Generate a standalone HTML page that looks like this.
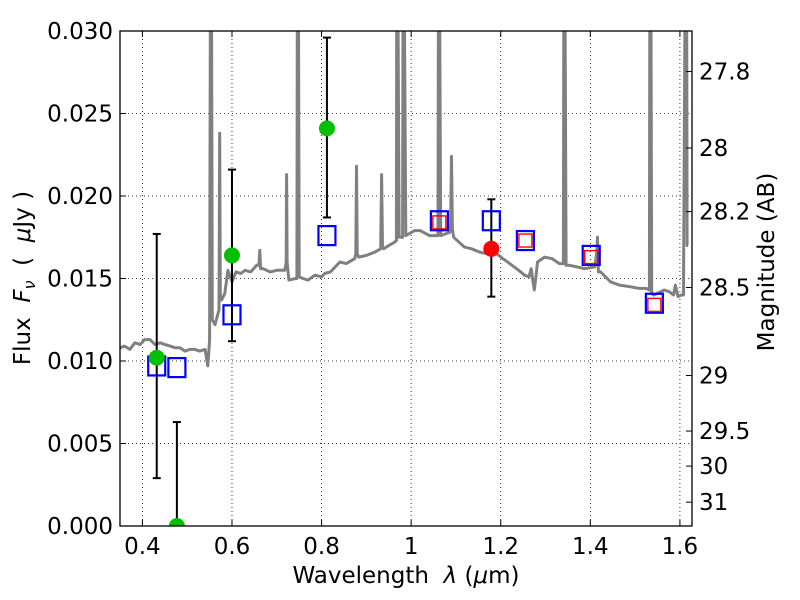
<!DOCTYPE html>
<html><head><meta charset="utf-8"><style>
html,body{margin:0;padding:0;background:#fff;}
svg{display:block;font-family:"DejaVu Sans","Liberation Sans",sans-serif;}
text{white-space:pre;}
</style></head><body>
<svg id="chart" width="800" height="600" viewBox="0 0 800 600" xmlns="http://www.w3.org/2000/svg" xml:space="preserve">
<defs><clipPath id="plotclip"><rect x="120" y="31" width="572" height="495"/></clipPath></defs>
<rect x="0" y="0" width="800" height="600" fill="#fff"/>
<g id="grid"></g>
<g id="spec" clip-path="url(#plotclip)"></g>
<g id="marks" clip-path="url(#plotclip)"></g>
<rect x="120" y="31" width="572" height="495" fill="none" stroke="#000" stroke-width="1.3"/>
<g id="axes"></g>
<text x="406" y="583" font-size="23" text-anchor="middle">Wavelength  <tspan font-style="italic">λ</tspan> (<tspan font-style="italic">μ</tspan>m)</text>
<text transform="translate(30,278) rotate(-90)" font-size="23" text-anchor="middle">Flux  <tspan font-style="italic">F</tspan><tspan font-style="italic" font-size="16" dy="5">ν</tspan><tspan dy="-5">  (  </tspan><tspan font-style="italic">μ</tspan>Jy )</text>
<text transform="translate(774,262) rotate(-90)" font-size="23" text-anchor="middle">Magnitude (AB)</text>
</svg>
<script>
const xTicks=[0.4,0.6,0.8,1.0,1.2,1.4,1.6];
const xTickLabels=["0.4","0.6","0.8","1","1.2","1.4","1.6"];
const yTicks=[0,0.005,0.010,0.015,0.020,0.025,0.030];
const yTickLabels=["0.000","0.005","0.010","0.015","0.020","0.025","0.030"];
const magTicks=[27.8,28,28.2,28.5,29,29.5,30,31];
const magTickLabels=["27.8","28","28.2","28.5","29","29.5","30","31"];
const specWave=[0.350,0.360,0.372,0.383,0.395,0.405,0.417,0.428,0.440,0.450,0.462,0.473,0.484,0.495,0.506,0.517,0.528,0.540,0.546,0.550,0.552,0.554,0.556,0.562,0.571,0.5725,0.574,0.577,0.584,0.591,0.600,0.609,0.620,0.629,0.642,0.655,0.660,0.662,0.664,0.669,0.685,0.700,0.718,0.721,0.722,0.723,0.727,0.742,0.745,0.746,0.748,0.750,0.758,0.770,0.785,0.800,0.807,0.820,0.841,0.855,0.874,0.8765,0.878,0.8795,0.883,0.900,0.919,0.932,0.934,0.936,0.939,0.950,0.963,0.967,0.968,0.970,0.973,0.979,0.981,0.982,0.984,0.988,1.008,1.020,1.041,1.057,1.060,1.061,1.063,1.066,1.086,1.088,1.090,1.092,1.095,1.119,1.135,1.153,1.170,1.186,1.205,1.220,1.240,1.253,1.263,1.268,1.272,1.275,1.279,1.282,1.298,1.315,1.331,1.340,1.341,1.343,1.346,1.353,1.370,1.387,1.410,1.414,1.416,1.418,1.423,1.445,1.465,1.490,1.509,1.525,1.532,1.533,1.535,1.537,1.541,1.550,1.565,1.576,1.586,1.590,1.596,1.603,1.608,1.612,1.615,1.616,1.618,1.622,1.627];
const specFlux=[0.0108,0.0109,0.0107,0.0111,0.0110,0.0113,0.0113,0.0110,0.0111,0.0110,0.0109,0.0108,0.0108,0.0106,0.0107,0.0107,0.0106,0.0107,0.0097,0.0113,0.035,0.035,0.0125,0.0122,0.0131,0.0238,0.0137,0.0137,0.0141,0.0155,0.0148,0.0154,0.0153,0.0155,0.0154,0.0158,0.0158,0.0167,0.0156,0.0156,0.0154,0.0155,0.0155,0.0160,0.0213,0.0160,0.0149,0.0150,0.0150,0.035,0.035,0.0151,0.0150,0.0149,0.0152,0.0151,0.0153,0.0154,0.0160,0.0159,0.0162,0.0165,0.0218,0.0165,0.0163,0.0164,0.0166,0.0168,0.0213,0.0169,0.0168,0.0170,0.0172,0.0173,0.035,0.035,0.0175,0.0175,0.0175,0.035,0.035,0.0176,0.0179,0.0179,0.0176,0.0176,0.0176,0.035,0.035,0.0176,0.0178,0.0180,0.0224,0.0180,0.0175,0.0169,0.0168,0.0166,0.0165,0.0166,0.0162,0.0159,0.0155,0.0152,0.0151,0.0156,0.0148,0.0143,0.0152,0.0160,0.0163,0.0162,0.0159,0.0159,0.035,0.035,0.0158,0.0158,0.0157,0.0156,0.0157,0.0165,0.0175,0.0154,0.0154,0.0148,0.0146,0.0145,0.0144,0.0144,0.0143,0.035,0.035,0.0141,0.0140,0.0141,0.0143,0.0142,0.0140,0.0146,0.0139,0.0140,0.0140,0.035,0.035,0.0170,0.0170];
const boxWave=[0.432,0.477,0.600,0.812,1.063,1.179,1.255,1.402,1.543];
const boxFlux=[0.0097,0.0096,0.0128,0.0176,0.0185,0.0185,0.0173,0.0164,0.0135];
const redBoxWave=[1.063,1.255,1.402,1.543];
const redBoxFlux=[0.0184,0.0173,0.0163,0.0134];
const greenWave=[0.432,0.477,0.600,0.812];
const greenFlux=[0.0102,0.0,0.0164,0.0241];
const greenErrHi=[0.0177,0.0063,0.0216,0.0296];
const greenErrLo=[0.0029,-0.005,0.0112,0.0187];
const redWave=[1.179];
const redFlux=[0.0168];
const redErrHi=[0.0198];
const redErrLo=[0.0139];

const X0=120,X1=692,Y0=526,Y1=31,WMIN=0.35,WMAX=1.627,FMIN=0,FMAX=0.030;
function xs(w){return X0+(w-WMIN)/(WMAX-WMIN)*(X1-X0);}
function ys(f){return Y0-(f-FMIN)/(FMAX-FMIN)*(Y0-Y1);}
function magToFlux(m){return Math.pow(10,(23.9-m)/2.5);}
const NS="http://www.w3.org/2000/svg";
function mk(tag,attrs,parent){const e=document.createElementNS(NS,tag);for(const k in attrs)e.setAttribute(k,attrs[k]);parent.appendChild(e);return e;}
const grid=document.getElementById('grid'),axes=document.getElementById('axes'),spec=document.getElementById('spec'),marks=document.getElementById('marks');

xTicks.forEach((t,i)=>{const x=xs(t);
 let g=mk('line',{x1:x,x2:x,y1:Y1,y2:Y0,stroke:'#000','stroke-width':0.8,'stroke-dasharray':'1,3'},grid);
 
 
 let a=mk('line',{x1:x,x2:x,y1:Y0,y2:Y0-6,stroke:'#000','stroke-width':1},axes);
 
 
 let b=mk('line',{x1:x,x2:x,y1:Y1,y2:Y1+6,stroke:'#000','stroke-width':1},axes);
 
 
 let tx=mk('text',{x:x,y:554,'font-size':23,'text-anchor':'middle'},axes);tx.textContent=xTickLabels[i];
 
 
});
yTicks.forEach((t,i)=>{const y=ys(t);
 let g=mk('line',{x1:X0,x2:X1,y1:y,y2:y,stroke:'#000','stroke-width':0.8,'stroke-dasharray':'1,3'},grid);
 
 
 let a=mk('line',{x1:X0,x2:X0+6,y1:y,y2:y,stroke:'#000','stroke-width':1},axes);
 
 
 let tx=mk('text',{x:113,y:y+8,'font-size':23,'text-anchor':'end'},axes);tx.textContent=yTickLabels[i];
 
 
});
magTicks.forEach((m,i)=>{const y=ys(magToFlux(m));
 let a=mk('line',{x1:X1,x2:X1-6,y1:y,y2:y,stroke:'#000','stroke-width':1},axes);
 
 
 let tx=mk('text',{x:699,y:y+8,'font-size':23,'text-anchor':'start'},axes);tx.textContent=magTickLabels[i];
 
 
});

const pts=specWave.map((w,i)=>xs(w).toFixed(1)+','+ys(specFlux[i]).toFixed(1)).join(' ');
const pl=mk('polyline',{points:pts,fill:'none',stroke:'#808080','stroke-width':3,'stroke-linejoin':'round'},spec);



function errbar(w,hi,lo,name){const x=xs(w);
 const e=mk('g',{},marks);
 
 
 mk('line',{x1:x,x2:x,y1:ys(hi),y2:ys(lo),stroke:'#000','stroke-width':2},e);
 mk('line',{x1:x-4,x2:x+4,y1:ys(hi),y2:ys(hi),stroke:'#000','stroke-width':2},e);
 mk('line',{x1:x-4,x2:x+4,y1:ys(lo),y2:ys(lo),stroke:'#000','stroke-width':2},e);
}
greenWave.forEach((w,i)=>errbar(w,greenErrHi[i],greenErrLo[i],'green-errorbar'));
redWave.forEach((w,i)=>errbar(w,redErrHi[i],redErrLo[i],'red-errorbar'));
boxWave.forEach((w,i)=>{
 const r=mk('rect',{x:xs(w)-8.5,y:ys(boxFlux[i])-9.5,width:17,height:19,fill:'none',stroke:'#0000ff','stroke-width':2.2},marks);
 
 
});
redBoxWave.forEach((w,i)=>{
 const r=mk('rect',{x:xs(w)-6.5,y:ys(redBoxFlux[i])-6.5,width:13,height:13,fill:'none',stroke:'#ff0000','stroke-width':1.4},marks);
 
 
});
greenWave.forEach((w,i)=>{
 const c=mk('circle',{cx:xs(w),cy:ys(greenFlux[i]),r:8,fill:'#00c000'},marks);
 
 
});
redWave.forEach((w,i)=>{
 const c=mk('circle',{cx:xs(w),cy:ys(redFlux[i]),r:8,fill:'#ff0000'},marks);
 
 
});
</script>
</body></html>
